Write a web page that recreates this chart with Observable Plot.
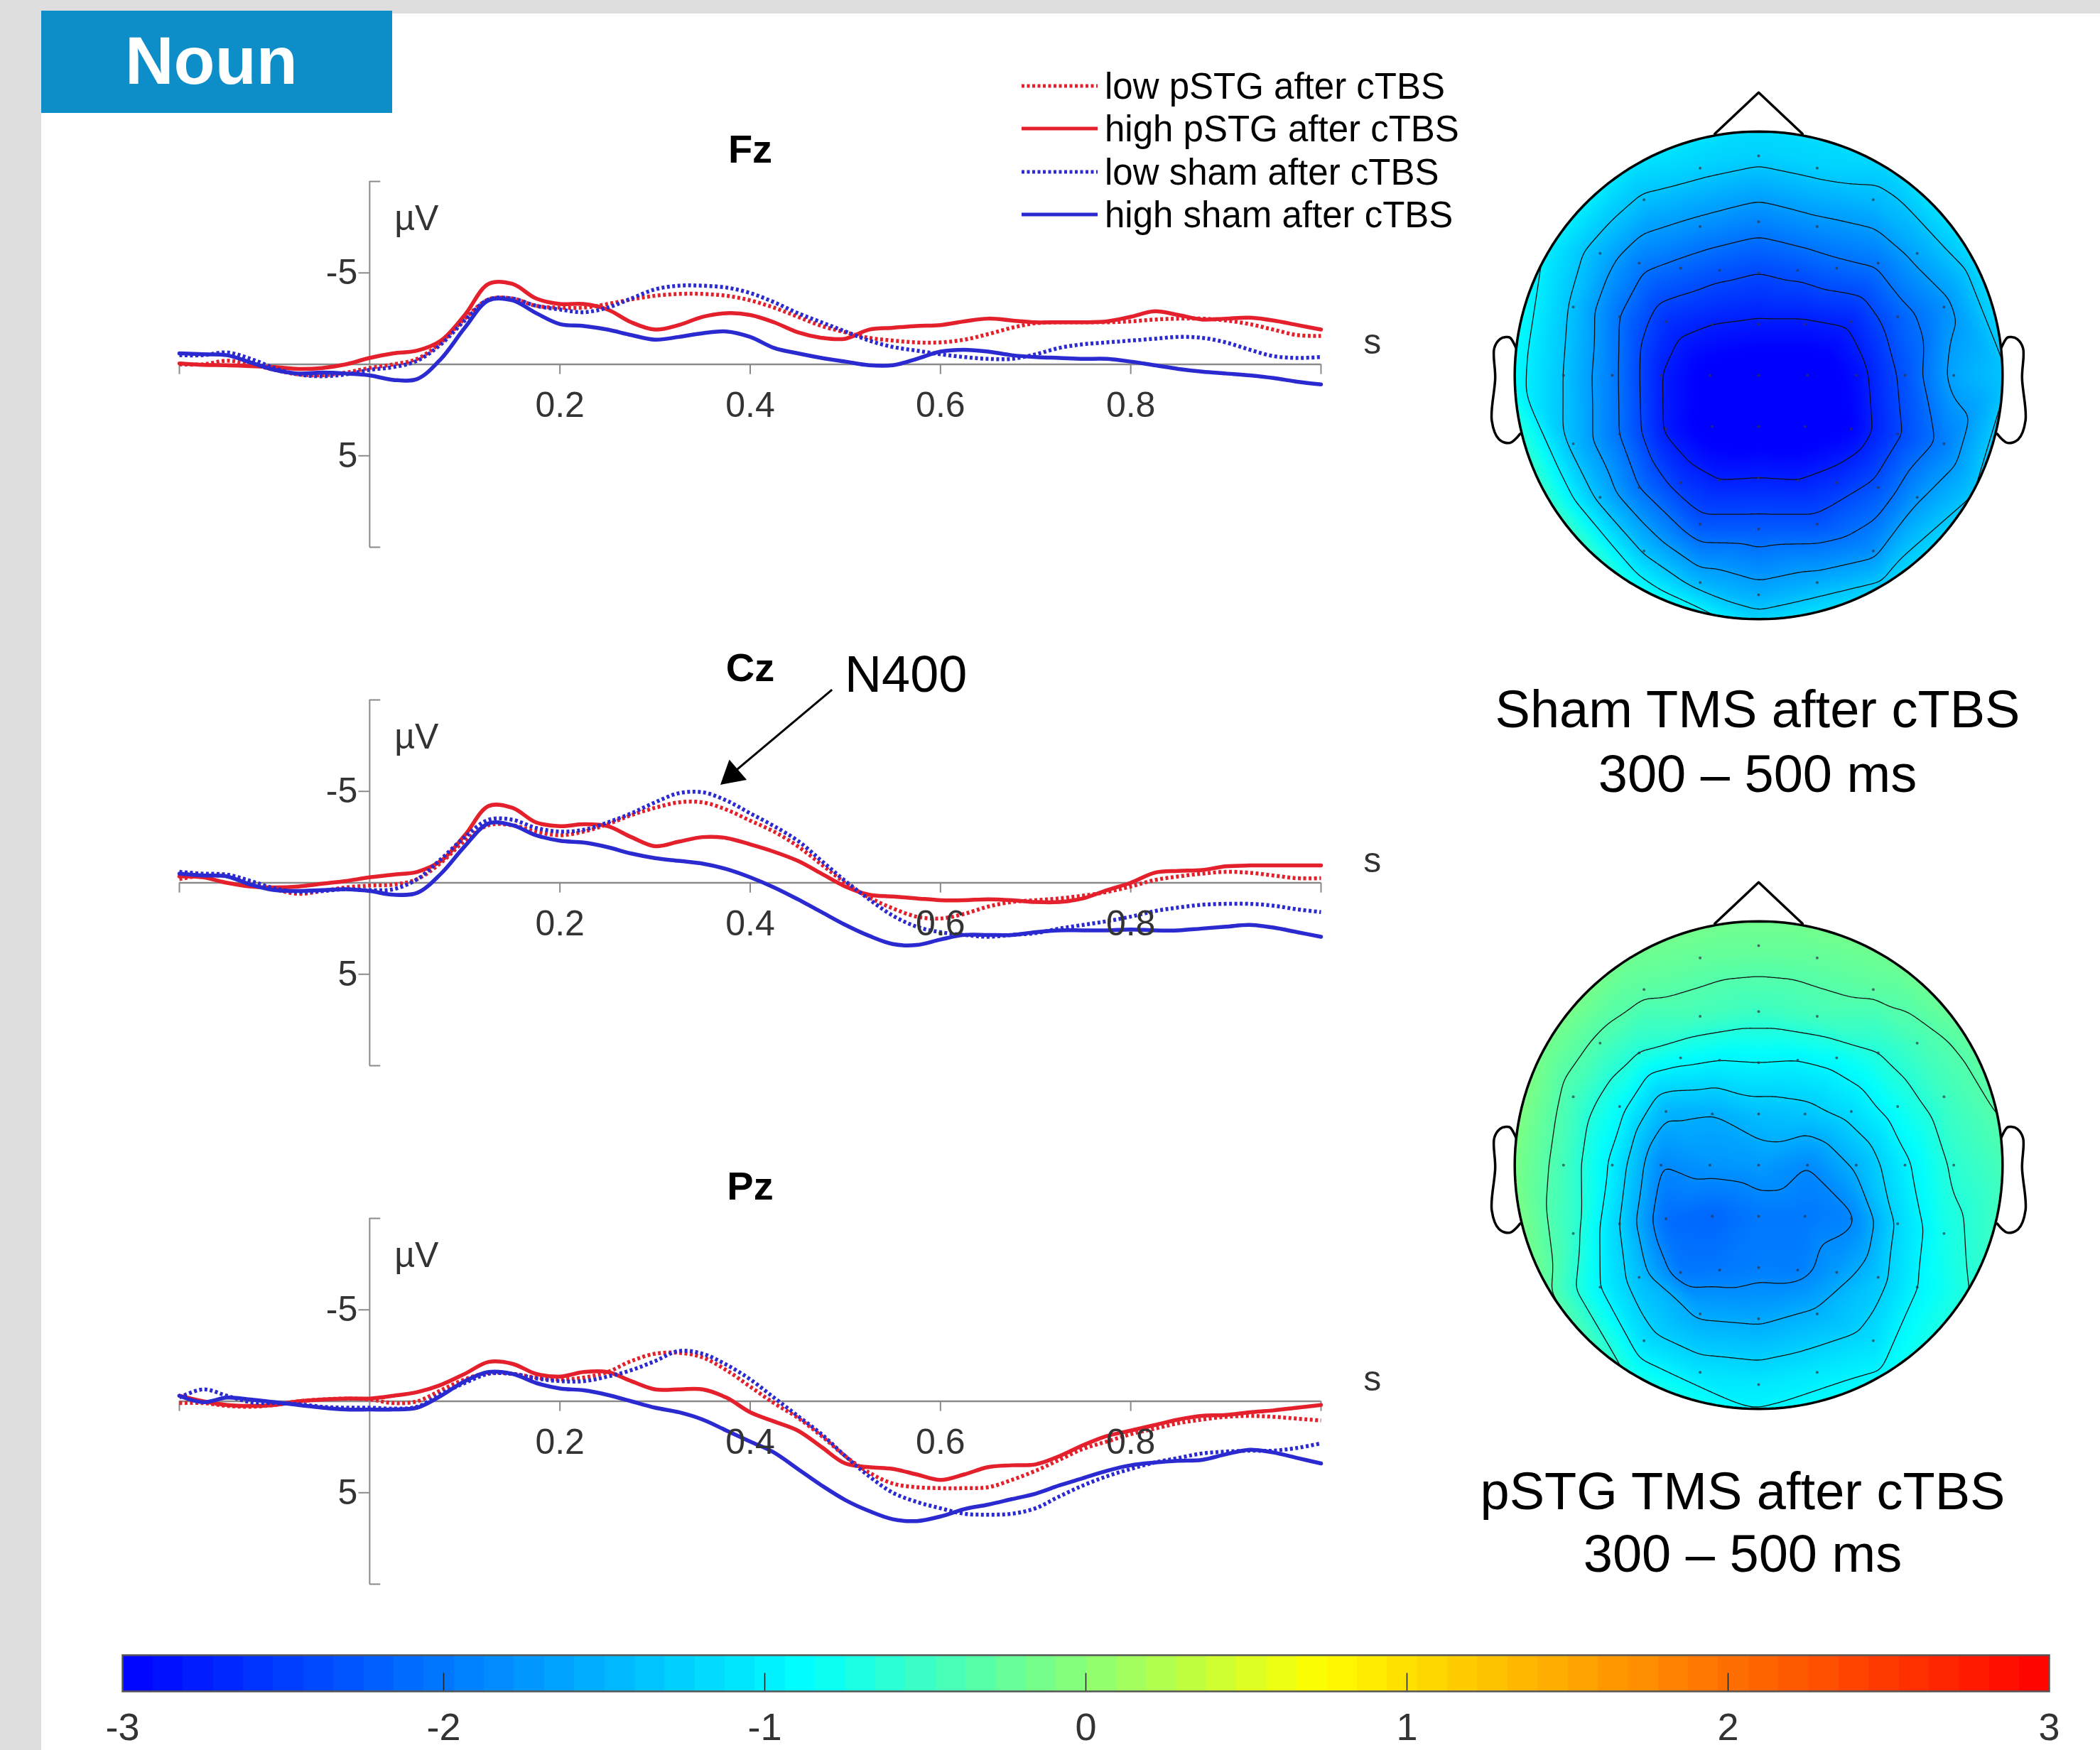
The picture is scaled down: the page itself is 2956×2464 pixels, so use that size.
<!DOCTYPE html>
<html>
<head>
<meta charset="utf-8">
<script src="https://cdn.jsdelivr.net/npm/d3@7"></script>
<script src="https://cdn.jsdelivr.net/npm/@observablehq/plot@0.6"></script>
<style>
html,body{margin:0;padding:0;background:#fff;}
#page{position:relative;width:2956px;height:2464px;overflow:hidden;background:#fff;font-family:"Liberation Sans",Arial,sans-serif;}
#page > svg, #page > div{position:absolute;}
</style>
</head>
<body>
<div id="page"></div>
<script>
// ---------------- DATA ----------------
const time = [-0.2,-0.175,-0.15,-0.125,-0.1,-0.075,-0.05,-0.025,0,0.025,0.05,0.075,0.1,0.125,0.15,0.175,0.2,0.225,0.25,0.275,0.3,0.325,0.35,0.375,0.4,0.425,0.45,0.475,0.5,0.525,0.55,0.575,0.6,0.625,0.65,0.675,0.7,0.725,0.75,0.775,0.8,0.825,0.85,0.875,0.9,0.925,0.95,0.975,1.0];

const seriesNames = ["low pSTG after cTBS","high pSTG after cTBS","low sham after cTBS","high sham after cTBS"];

// Fz
const fzLowPstg  = [0.0,0.0,-0.2,0.0,0.3,0.55,0.6,0.45,0.2,0.0,-0.3,-1.2,-2.5,-3.55,-3.6,-3.2,-3.1,-3.1,-3.3,-3.55,-3.75,-3.85,-3.85,-3.75,-3.5,-3.1,-2.6,-2.1,-1.75,-1.45,-1.3,-1.2,-1.2,-1.35,-1.65,-2.0,-2.25,-2.3,-2.3,-2.3,-2.35,-2.45,-2.5,-2.5,-2.4,-2.2,-1.9,-1.6,-1.55];
const fzHighPstg = [-0.05,0.03,0.05,0.1,0.15,0.25,0.2,0.0,-0.35,-0.6,-0.75,-1.3,-2.7,-4.4,-4.4,-3.6,-3.3,-3.3,-3.0,-2.3,-1.9,-2.15,-2.6,-2.8,-2.7,-2.3,-1.75,-1.45,-1.4,-1.9,-2.0,-2.1,-2.15,-2.35,-2.5,-2.4,-2.3,-2.3,-2.3,-2.35,-2.6,-2.9,-2.7,-2.45,-2.5,-2.55,-2.4,-2.15,-1.9];
const fzLowSham  = [-0.5,-0.5,-0.65,-0.3,0.2,0.55,0.65,0.55,0.3,0.15,-0.2,-1.1,-2.4,-3.55,-3.6,-3.2,-3.0,-2.85,-3.1,-3.6,-4.1,-4.3,-4.3,-4.2,-3.9,-3.4,-2.8,-2.3,-1.8,-1.3,-0.95,-0.75,-0.55,-0.4,-0.3,-0.3,-0.55,-0.9,-1.1,-1.2,-1.3,-1.4,-1.5,-1.45,-1.2,-0.8,-0.45,-0.35,-0.4];
const fzHighSham = [-0.6,-0.55,-0.5,-0.1,0.3,0.5,0.45,0.5,0.6,0.85,0.8,-0.3,-2.0,-3.5,-3.5,-2.8,-2.2,-2.1,-1.9,-1.6,-1.35,-1.5,-1.7,-1.8,-1.5,-0.9,-0.6,-0.35,-0.15,0.05,0.05,-0.3,-0.7,-0.8,-0.7,-0.5,-0.4,-0.35,-0.3,-0.3,-0.15,0.05,0.25,0.4,0.5,0.6,0.75,0.95,1.1];

// Cz
const czLowPstg  = [-0.2,-0.4,-0.35,0.0,0.35,0.6,0.45,0.25,0.15,0.1,-0.2,-1.1,-2.3,-3.15,-3.15,-2.8,-2.6,-2.8,-3.2,-3.7,-4.1,-4.4,-4.4,-4.0,-3.4,-2.8,-2.0,-1.0,0.0,0.8,1.4,1.85,1.95,1.7,1.3,1.05,0.95,0.85,0.7,0.5,0.2,-0.15,-0.35,-0.5,-0.6,-0.55,-0.4,-0.25,-0.25];
const czHighPstg = [-0.35,-0.3,0.0,0.2,0.25,0.2,0.05,-0.1,-0.3,-0.45,-0.6,-1.2,-2.6,-4.2,-4.1,-3.3,-3.1,-3.2,-3.1,-2.5,-2.0,-2.25,-2.5,-2.45,-2.1,-1.7,-1.2,-0.5,0.2,0.65,0.75,0.85,0.95,0.95,0.9,0.95,1.05,1.05,0.85,0.4,0.0,-0.55,-0.65,-0.7,-0.9,-0.95,-0.95,-0.95,-0.95];
const czLowSham  = [-0.6,-0.5,-0.45,-0.1,0.3,0.5,0.45,0.35,0.4,0.35,-0.2,-1.3,-2.5,-3.45,-3.45,-3.0,-2.8,-2.9,-3.3,-3.8,-4.4,-4.9,-4.95,-4.5,-3.8,-3.1,-2.3,-1.2,-0.1,0.9,1.8,2.4,2.7,2.85,2.95,2.85,2.75,2.5,2.3,2.1,1.85,1.55,1.35,1.2,1.15,1.15,1.25,1.45,1.6];
const czHighSham = [-0.5,-0.4,-0.35,0.1,0.4,0.45,0.4,0.35,0.45,0.65,0.55,-0.5,-2.0,-3.25,-3.15,-2.6,-2.3,-2.2,-1.95,-1.6,-1.35,-1.2,-1.05,-0.75,-0.3,0.25,0.9,1.6,2.3,2.9,3.35,3.4,3.1,2.85,2.85,2.85,2.7,2.6,2.6,2.6,2.55,2.6,2.6,2.5,2.4,2.3,2.45,2.7,2.95];

// Pz
const pzLowPstg  = [0.1,0.1,0.25,0.3,0.2,0.0,-0.1,-0.15,-0.1,0.1,0.0,-0.6,-1.2,-1.55,-1.5,-1.3,-1.2,-1.3,-1.6,-2.2,-2.6,-2.65,-2.4,-1.7,-0.8,0.1,0.9,1.9,3.0,3.9,4.5,4.7,4.75,4.75,4.7,4.3,3.8,3.2,2.6,2.2,1.8,1.5,1.2,1.0,0.85,0.8,0.85,0.95,1.05];
const pzHighPstg = [-0.3,0.0,0.2,0.25,0.2,0.0,-0.1,-0.15,-0.15,-0.3,-0.5,-0.9,-1.5,-2.15,-2.05,-1.5,-1.35,-1.6,-1.6,-1.1,-0.65,-0.65,-0.65,-0.2,0.6,1.1,1.6,2.5,3.4,3.6,3.7,4.0,4.3,4.0,3.6,3.5,3.45,3.0,2.4,1.9,1.6,1.3,1.0,0.8,0.75,0.6,0.5,0.35,0.2];
const pzLowSham  = [-0.2,-0.65,-0.3,0.05,0.1,0.15,0.3,0.35,0.35,0.4,0.3,-0.4,-1.0,-1.5,-1.5,-1.25,-1.1,-1.1,-1.35,-1.7,-2.2,-2.75,-2.6,-2.0,-1.2,-0.2,0.8,1.8,3.0,4.1,5.0,5.5,5.85,6.15,6.2,6.15,5.85,5.2,4.6,4.1,3.7,3.35,3.1,2.85,2.75,2.7,2.7,2.55,2.3];
const pzHighSham = [-0.3,0.05,-0.2,-0.1,0.05,0.2,0.35,0.45,0.45,0.45,0.35,-0.3,-1.1,-1.6,-1.5,-1.0,-0.7,-0.6,-0.35,0.0,0.35,0.6,1.0,1.6,2.2,2.8,3.7,4.6,5.4,6.0,6.45,6.55,6.3,5.9,5.65,5.35,5.05,4.6,4.2,3.8,3.5,3.35,3.25,3.2,2.9,2.65,2.8,3.1,3.4];

const panelTitles = ["Fz","Cz","Pz"];
const xTickLabels = [0.2,0.4,0.6,0.8];
const xTickMarks = [-0.2,0.2,0.4,0.6,0.8,1.0];
const yTickLabels = [-5,5];
const yEndTicks = [-10,10];

// Electrode layout (head-radius units, y toward the nose)
const elecNames = ["Fp1","Fpz","Fp2","AF7","AF3","AFz","AF4","AF8","F7","F5","F3","F1","Fz","F2","F4","F6","F8","FT7","FC5","FC3","FC1","FCz","FC2","FC4","FC6","FT8","T7","C5","C3","C1","Cz","C2","C4","C6","T8","TP7","CP5","CP3","CP1","CPz","CP2","CP4","CP6","TP8","P7","P5","P3","P1","Pz","P2","P4","P6","P8","PO7","PO3","POz","PO4","PO8","O1","Oz","O2"];
const elecX = [-0.24,0,0.24, -0.47,-0.24,0,0.24,0.47, -0.65,-0.49,-0.32,-0.16,0,0.16,0.32,0.49,0.65, -0.76,-0.57,-0.38,-0.19,0,0.19,0.38,0.57,0.76, -0.8,-0.6,-0.4,-0.2,0,0.2,0.4,0.6,0.8, -0.76,-0.57,-0.38,-0.19,0,0.19,0.38,0.57,0.76, -0.65,-0.49,-0.32,-0.16,0,0.16,0.32,0.49,0.65, -0.47,-0.24,0,0.24,0.47, -0.24,0,0.24];
const elecY = [0.85,0.9,0.85, 0.72,0.61,0.63,0.61,0.72, 0.5,0.46,0.44,0.43,0.42,0.43,0.44,0.46,0.5, 0.28,0.24,0.22,0.21,0.21,0.21,0.22,0.24,0.28, 0,0,0,0,0,0,0,0,0, -0.28,-0.24,-0.22,-0.21,-0.21,-0.21,-0.22,-0.24,-0.28, -0.5,-0.46,-0.44,-0.43,-0.42,-0.43,-0.44,-0.46,-0.5, -0.72,-0.61,-0.63,-0.61,-0.72, -0.85,-0.9,-0.85];

const shamValues = [-1.25,-1.25,-1.25, -1.4,-1.8,-1.9,-1.8,-1.45, -1.5,-1.95,-2.15,-2.3,-2.4,-2.3,-2.15,-2.0,-1.6, -1.4,-2.05,-2.6,-2.75,-2.8,-2.8,-2.7,-2.2,-1.8, -1.35,-1.95,-2.75,-3.1,-3.2,-3.2,-2.9,-2.3,-1.6, -1.45,-2.05,-2.8,-3.15,-3.2,-3.2,-3.0,-2.45,-1.95, -1.45,-2.05,-2.55,-2.75,-2.75,-2.75,-2.6,-2.3,-1.75, -1.4,-2.3,-2.25,-2.3,-1.8, -1.5,-1.55,-1.55];
const pstgValues = [-0.25,-0.22,-0.25, -0.3,-0.45,-0.5,-0.45,-0.3, -0.4,-0.65,-0.85,-0.95,-0.95,-0.95,-0.85,-0.65,-0.45, -0.45,-0.85,-1.5,-1.55,-1.4,-1.35,-1.15,-0.8,-0.5, -0.45,-1.0,-1.85,-1.75,-1.7,-1.85,-1.5,-1.0,-0.6, -0.55,-1.25,-2.1,-2.15,-2.0,-2.0,-1.9,-1.2,-0.75, -0.95,-1.4,-2.0,-2.0,-1.95,-1.95,-1.7,-1.35,-0.95, -1.15,-1.6,-1.6,-1.5,-1.15, -1.1,-1.05,-1.05];

// Values read along the scalp rim (angle in degrees, 0 = right ear, 90 = nose)
const rimAngles = [0,30,60,90,120,150,180,210,240,270,300,330];
const shamRim = [-1.3,-1.1,-1.15,-1.15,-1.05,-0.95,-0.8,-0.4,-0.65,-1.1,-1.15,-1.25];
const pstgRim = [-0.4,-0.25,-0.15,-0.15,-0.15,-0.1,-0.05,-0.2,-0.65,-0.9,-0.85,-0.6];

const shamLevels = [-1.0,-1.35,-1.7,-2.05,-2.4,-2.75];
const pstgLevels = [-0.35,-0.65,-0.95,-1.25,-1.55,-1.85];

const colorTicks = [-3,-2,-1,0,1,2,3];

// Head outline shapes (EEGLAB style)
const noseX = [-0.18,0,0.18];
const noseY = [0.99,1.16,0.99];
const earX = [0.994,1.02,1.036,1.06,1.084,1.08,1.094,1.064,1.02,0.978];
const earY = [0.111,0.155,0.157,0.149,0.111,-0.011,-0.186,-0.263,-0.277,-0.24];

// ---------------- STYLE ----------------
const FONT = "'Liberation Sans', Arial, Helvetica, sans-serif";
const RED = "#e3202b", BLUE = "#2a2ad0", AX = "#8a8a8a", TXT = "#333333";
const seriesColors = [RED, RED, BLUE, BLUE];
const seriesDotted = [true, false, true, false];
const colorScale = {type: "linear", domain: [-3, -0.87, 0.72, 3], range: ["#0000ff", "#00ffff", "#ffff00", "#ff0000"], interpolate: "rgb", clamp: true};

const page = document.getElementById("page");
function place(el, left, top) {
  el.style.position = "absolute";
  el.style.left = left + "px";
  el.style.top = top + "px";
  page.appendChild(el);
}

// background bands
const bandL = document.createElement("div");
bandL.style.cssText = "width:58px;height:2464px;background:#dedede;";
place(bandL, 0, 0);
const bandT = document.createElement("div");
bandT.style.cssText = "width:2956px;height:19px;background:#dedede;";
place(bandT, 0, 0);

// ---------------- ERP PANELS ----------------
function erpPanel(title, arrays, annotate) {
  const rows = [];
  arrays.forEach((arr, si) => arr.forEach((v, i) => rows.push({t: time[i], v, s: si})));
  const marks = [
    Plot.ruleY([0], {x1: -0.2, x2: 1.0, stroke: AX, strokeWidth: 2.5}),
    Plot.ruleX(xTickMarks, {y1: 0, y2: 0.55, stroke: AX, strokeWidth: 2}),
    Plot.ruleX([0], {y1: -10, y2: 10, stroke: AX, strokeWidth: 2}),
    Plot.ruleY(yTickLabels, {x1: -0.0115, x2: 0, stroke: AX, strokeWidth: 2}),
    Plot.ruleY(yEndTicks, {x1: 0, x2: 0.0115, stroke: AX, strokeWidth: 2})
  ];
  seriesNames.forEach((name, si) => {
    marks.push(Plot.line(rows.filter(r => r.s === si), {
      x: "t", y: "v", stroke: seriesColors[si], strokeWidth: 5.5,
      strokeDasharray: seriesDotted[si] ? "4,3.5" : null,
      strokeLinecap: seriesDotted[si] ? "butt" : "round",
      curve: "catmull-rom"
    }));
  });
  marks.push(
    Plot.text(yTickLabels, {x: 0, y: d => d, dx: -17, textAnchor: "end", text: d => String(d), fontSize: 50, fill: TXT}),
    Plot.text(xTickLabels, {x: d => d, y: 0, dy: 58, text: d => d.toFixed(1), fontSize: 50, fill: TXT}),
    Plot.text(["\u00b5V"], {x: 0.026, y: -7.96, textAnchor: "start", fontSize: 50, fill: TXT}),
    Plot.text(["s"], {x: 1.054, y: -1.2, fontSize: 50, fill: TXT}),
    Plot.text([title], {x: 0.4, frameAnchor: "top", lineAnchor: "middle", dy: -44, fontSize: 56, fontWeight: "bold", fill: "#000"})
  );
  if (annotate) {
    marks.push(
      Plot.text(["N400"], {x: 0.4994, y: -11.34, textAnchor: "start", fontSize: 72, fill: "#000"}),
      Plot.link([0], {x1: 0.486, y1: -10.56, x2: 0.384, y2: -6.1, stroke: "#000", strokeWidth: 3}),
      Plot.dot([0], {x: 0.381, y: -5.91, symbol: "triangle", r: 14, rotate: 229.5, fill: "#000", stroke: "none"})
    );
  }
  return Plot.plot({
    width: 2000, height: 705,
    marginLeft: 252, marginRight: 141, marginTop: 120, marginBottom: 70,
    x: {domain: [-0.2, 1.0], axis: null},
    y: {domain: [-10, 10], reverse: true, axis: null},
    style: {fontFamily: FONT, background: "transparent", overflow: "visible"},
    marks
  });
}

place(erpPanel(panelTitles[0], [fzLowPstg, fzHighPstg, fzLowSham, fzHighSham], false), 0, 135);
place(erpPanel(panelTitles[1], [czLowPstg, czHighPstg, czLowSham, czHighSham], true), 0, 865);
place(erpPanel(panelTitles[2], [pzLowPstg, pzHighPstg, pzLowSham, pzHighSham], false), 0, 1595);

// ---------------- TOPOGRAPHIES ----------------
function topo(values, rimValues, levels, id) {
  const pts = elecX.map((x, i) => ({x, y: elecY[i], v: values[i], name: elecNames[i]}));
  const rim = rimAngles.map((a, i) => ({x: 1.04 * Math.cos(a * Math.PI / 180), y: 1.04 * Math.sin(a * Math.PI / 180), v: rimValues[i]}));
  const all = pts.concat(rim);
  const circle = d3.range(0, 361, 2).map(a => ({x: Math.cos(a * Math.PI / 180), y: Math.sin(a * Math.PI / 180)}));
  const nose = noseX.map((x, i) => ({x, y: noseY[i]}));
  const earR = earX.map((x, i) => ({x, y: earY[i]}));
  const earL = earX.map((x, i) => ({x: -x, y: earY[i]}));
  const svg = Plot.plot({
    width: 824, height: 824, margin: 0,
    x: {domain: [-1.2, 1.2], axis: null},
    y: {domain: [-1.2, 1.2], axis: null},
    color: colorScale,
    style: {background: "transparent", overflow: "visible"},
    marks: [
      Plot.raster(all, {x: "x", y: "y", fill: "v", interpolate: "barycentric", x1: -1.05, x2: 1.05, y1: -1.05, y2: 1.05, pixelSize: 2, blur: 3}),
      Plot.contour(all, {x: "x", y: "y", value: "v", interpolate: "barycentric", x1: -1.05, x2: 1.05, y1: -1.05, y2: 1.05, thresholds: levels, blur: 3, stroke: "#111", strokeWidth: 1.3, fill: "none"}),
      Plot.dot(pts, {x: "x", y: "y", r: 2, fill: "#334", stroke: "none", fillOpacity: 0.7}),
      Plot.line(circle, {x: "x", y: "y", stroke: "#000", strokeWidth: 3.5}),
      Plot.line(nose, {x: "x", y: "y", stroke: "#000", strokeWidth: 3.5}),
      Plot.line(earR, {x: "x", y: "y", stroke: "#000", strokeWidth: 3.5, curve: "catmull-rom"}),
      Plot.line(earL, {x: "x", y: "y", stroke: "#000", strokeWidth: 3.5, curve: "catmull-rom"})
    ]
  });
  const xs = svg.scale("x"), ys = svg.scale("y");
  const cx = xs.apply(0), cy = ys.apply(0), r = xs.apply(1) - cx;
  const sel = d3.select(svg);
  sel.insert("defs", ":first-child").append("clipPath").attr("id", id)
    .append("circle").attr("cx", cx).attr("cy", cy).attr("r", r);
  sel.selectAll('g[aria-label="raster"], g[aria-label="contour"]').attr("clip-path", `url(#${id})`);
  return svg;
}

place(topo(shamValues, shamRim, shamLevels, "clipSham"), 2063, 116);
place(topo(pstgValues, pstgRim, pstgLevels, "clipPstg"), 2063, 1228);

// ---------------- COLORBAR ----------------
const cbar = Plot.plot({
  width: 2856, height: 151,
  marginLeft: 72, marginRight: 72, marginTop: 20, marginBottom: 80,
  x: {domain: [-3, 3], axis: null},
  y: {domain: [0, 1], axis: null},
  color: colorScale,
  style: {fontFamily: FONT, background: "transparent", overflow: "visible"},
  marks: [
    Plot.raster({fill: (x, y) => x, x1: -3, x2: 3, y1: 0, y2: 1, width: 64, height: 1, imageRendering: "pixelated"}),
    Plot.ruleX(colorTicks.slice(1, -1), {y1: 0, y2: 0.5, stroke: "#222", strokeWidth: 1.5}),
    Plot.frame({stroke: "#555", strokeWidth: 2.5}),
    Plot.text(colorTicks, {x: d => d, y: 0, dy: 51, text: d => String(d), fontSize: 54, fill: TXT})
  ]
});
place(cbar, 100, 2310);

// ---------------- OVERLAY TEXT (box, legend, map titles) ----------------
const NS = "http://www.w3.org/2000/svg";
const ov = document.createElementNS(NS, "svg");
ov.setAttribute("width", 2956); ov.setAttribute("height", 2464);
ov.style.pointerEvents = "none";
ov.style.fontFamily = FONT;
const o = d3.select(ov);
o.append("rect").attr("x", 58).attr("y", 15).attr("width", 494).attr("height", 144).attr("fill", "#0d8ec9");
o.append("text").attr("x", 176).attr("y", 118).attr("fill", "#fff").attr("font-size", 95).attr("font-weight", "bold").text("Noun");

const legendY = [121, 181, 242, 302];
seriesNames.forEach((name, i) => {
  o.append("line").attr("x1", 1438).attr("x2", 1545).attr("y1", legendY[i]).attr("y2", legendY[i])
    .attr("stroke", seriesColors[i]).attr("stroke-width", 5)
    .attr("stroke-dasharray", seriesDotted[i] ? "4,3.5" : null);
  o.append("text").attr("x", 1555).attr("y", legendY[i] + 18).attr("font-size", 51).attr("fill", "#000").text(name);
});

const mapTitles = [
  {lines: ["Sham TMS after cTBS", "300 \u2013 500 ms"], x: 2474, y: [1024, 1115]},
  {lines: ["pSTG TMS after cTBS", "300 \u2013 500 ms"], x: 2453, y: [2125, 2213]}
];
mapTitles.forEach(t => t.lines.forEach((s, i) => {
  o.append("text").attr("x", t.x).attr("y", t.y[i]).attr("text-anchor", "middle").attr("font-size", 74).attr("fill", "#000").text(s);
}));
place(ov, 0, 0);
</script>
</body>
</html>
